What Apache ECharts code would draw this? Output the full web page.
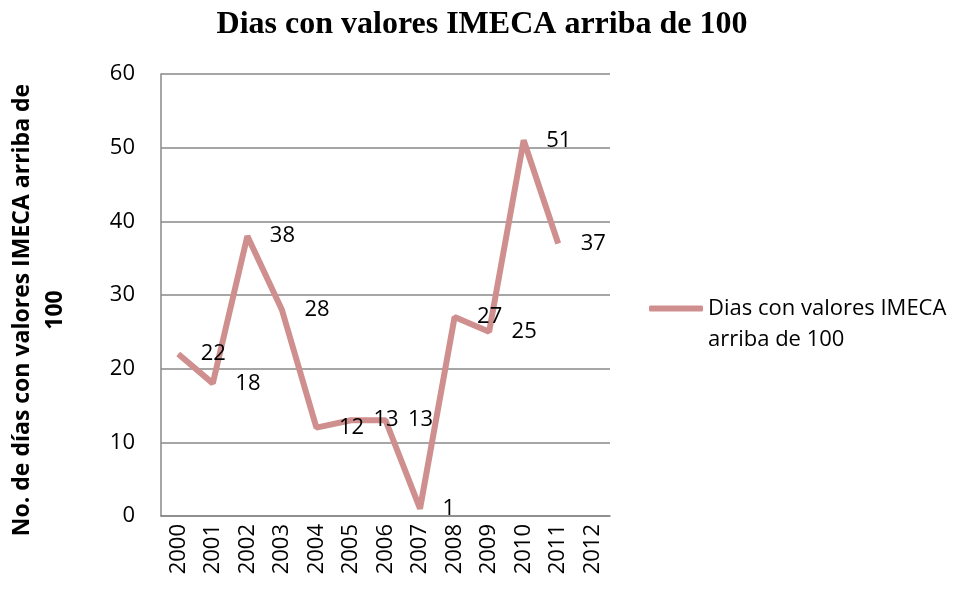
<!DOCTYPE html>
<html>
<head>
<meta charset="utf-8">
<script src="https://cdn.jsdelivr.net/npm/echarts@6/dist/echarts.min.js"></script>
<style>
  html, body { margin: 0; padding: 0; background: #fff; }
  #chart { width: 964px; height: 590px; }
</style>
</head>
<body>
<div id="chart"></div>
<script>
var years = ['2000', '2001', '2002', '2003', '2004', '2005', '2006', '2007', '2008', '2009', '2010', '2011', '2012'];
var dias = [22, 18, 38, 28, 12, 13, 13, 1, 27, 25, 51, 37];
var serieName = 'Dias con valores IMECA arriba de 100';

var chart = echarts.init(document.getElementById('chart'));
var option = {
    animation: false,
    backgroundColor: '#fff',
    title: {
        text: 'Dias con valores IMECA arriba de 100',
        left: 'center',
        top: 4,
        textStyle: {
            fontFamily: 'Liberation Serif',
            fontWeight: 'bold',
            fontSize: 32,
            color: '#000'
        }
    },
    legend: {
        orient: 'vertical',
        left: 644,
        top: 257,
        data: [serieName],
        icon: 'roundRect',
        itemWidth: 54,
        itemHeight: 6,
        itemGap: 6,
        // linea en blanco arriba para que el icono quede a la altura de la 1a linea
        formatter: function () {
            return ' \nDias con valores IMECA\narriba de 100';
        },
        textStyle: {
            fontFamily: 'Open Sans',
            fontSize: 22,
            color: '#000',
            lineHeight: 31
        }
    },
    grid: {
        left: 161,
        right: 354,
        top: 74,
        bottom: 74,
        outerBoundsMode: 'none',
        containLabel: false
    },
    xAxis: {
        type: 'category',
        data: years,
        boundaryGap: true,
        axisLine: { lineStyle: { color: '#888', width: 1.5 } },
        axisTick: { show: false },
        axisLabel: {
            rotate: 90,
            interval: 0,
            margin: 8,
            fontFamily: 'Open Sans',
            fontSize: 22,
            color: '#000'
        }
    },
    yAxis: {
        type: 'value',
        min: 0,
        max: 60,
        interval: 10,
        name: 'No. de días con valores IMECA arriba de\n100',
        nameLocation: 'middle',
        nameRotate: 90,
        nameGap: 89,
        nameTextStyle: {
            fontFamily: 'Open Sans',
            fontWeight: 'bold',
            fontSize: 23,
            color: '#000',
            lineHeight: 33,
            padding: [0, 30, 0, 0]
        },
        axisLine: { show: true, lineStyle: { color: '#888', width: 1.5 } },
        axisTick: { show: false },
        splitLine: { lineStyle: { color: '#888', width: 1.5 } },
        axisLabel: {
            margin: 26,
            fontFamily: 'Open Sans',
            fontSize: 22,
            color: '#000'
        }
    },
    series: [
        {
            name: serieName,
            type: 'line',
            data: dias,
            symbol: 'circle',
            symbolSize: 1,
            showSymbol: true,
            lineStyle: { color: '#CF8F8F', width: 6 },
            itemStyle: { color: '#CF8F8F' },
            label: {
                show: true,
                position: 'right',
                distance: 22,
                offset: [0, 2],
                fontFamily: 'Open Sans',
                fontSize: 22,
                color: '#000'
            },
            labelLayout: { hideOverlap: false }
        }
    ]
};
chart.setOption(option);
</script>
</body>
</html>
